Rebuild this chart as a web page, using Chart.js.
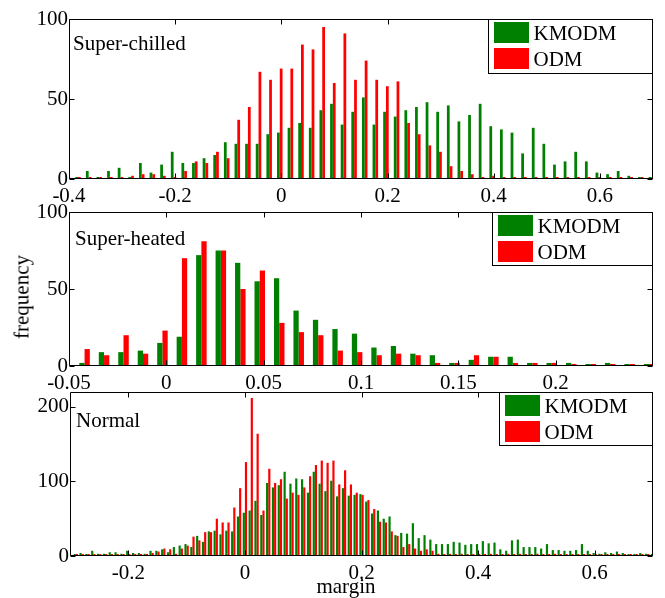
<!DOCTYPE html>
<html>
<head>
<meta charset="utf-8">
<title>margin histograms</title>
<script src="https://cdn.jsdelivr.net/npm/chart.js@4.4.1/dist/chart.umd.min.js"></script>
<style>
  body { margin: 0; background: #fff; }
  #wrap { position: relative; width: 665px; height: 598px; overflow: hidden; background: #fff;
          font-family: 'Liberation Serif', 'Times New Roman', serif; }
  #wrap canvas { position: absolute; left: 0; }
  .lbl { position: absolute; font-size: 21px; line-height: 21px; color: #000; white-space: nowrap; }
  #ylab { left: 22px; top: 297px; transform: translate(-50%, -50%) rotate(-90deg); }
  #xlab { left: 346px; top: 576px; transform: translateX(-50%); }
</style>
</head>
<body>
<div id="wrap">
  <canvas id="chilled" width="665" height="210" style="top:0px"></canvas>
  <canvas id="heated" width="665" height="200" style="top:195px"></canvas>
  <canvas id="normal" width="665" height="223" style="top:375px"></canvas>
  <div class="lbl" id="ylab">frequency</div>
  <div class="lbl" id="xlab">margin</div>
</div>
<script>
// ---- Super-chilled: bin centres and counts ----
const chilledBins = [-0.403, -0.383, -0.363, -0.343, -0.323, -0.303, -0.283, -0.263, -0.243, -0.223,
  -0.203, -0.183, -0.163, -0.143, -0.123, -0.103, -0.083, -0.063, -0.043, -0.023,
  -0.003, 0.017, 0.037, 0.057, 0.077, 0.097, 0.117, 0.137, 0.157, 0.177,
  0.197, 0.217, 0.237, 0.257, 0.277, 0.297, 0.317, 0.337, 0.357, 0.377,
  0.397, 0.417, 0.437, 0.457, 0.477, 0.497, 0.517, 0.537, 0.557, 0.577,
  0.597, 0.617, 0.637, 0.657, 0.677, 0.697];
const chilledKmodm = [0, 1, 5, 1, 5, 7, 1, 10, 4, 9,
  17, 10, 10, 13, 15, 23, 22, 22, 22, 28,
  29, 32, 35, 32, 43, 47, 34, 42, 51, 34,
  42, 39, 43, 45, 48, 42, 46, 36, 40, 47,
  33, 31, 29, 16, 32, 22, 9, 11, 17, 11,
  4, 3, 5, 2, 1, 1];
const chilledOdm = [0, 0, 0, 1, 1, 0, 2, 3, 3, 2,
  1, 5, 11, 10, 17, 13, 37, 45, 67, 62,
  69, 69, 84, 81, 95, 60, 91, 62, 74, 62,
  58, 61, 35, 28, 21, 17, 8, 5, 3, 0,
  2, 0, 0, 0, 0, 0, 0, 0, 0, 0,
  1, 0, 0, 0, 0, 0];
const chilledXTicks = [-0.4, -0.2, 0, 0.2, 0.4, 0.6];
const chilledYTicks = [0, 50, 100];

// ---- Super-heated ----
const heatedBins = [-0.042, -0.032, -0.022, -0.012, -0.002, 0.008, 0.018, 0.028, 0.038, 0.048,
  0.058, 0.068, 0.078, 0.088, 0.098, 0.108, 0.118, 0.128, 0.138, 0.148,
  0.158, 0.168, 0.178, 0.188, 0.198, 0.208, 0.218, 0.228, 0.238, 0.248];
const heatedKmodm = [2, 9, 9, 10, 15, 19, 72, 75, 67, 55,
  57, 36, 30, 24, 21, 12, 13, 8, 7, 2,
  4, 6, 6, 2, 2, 2, 1, 2, 0, 0];
const heatedOdm = [11, 7, 20, 8, 23, 70, 81, 75, 50, 62,
  28, 22, 20, 10, 9, 7, 8, 7, 2, 2,
  7, 6, 2, 2, 2, 1, 1, 0, 0, 0];
const heatedXTicks = [-0.05, 0, 0.05, 0.1, 0.15, 0.2];
const heatedYTicks = [0, 50, 100];

// ---- Normal ----
const normalBins = [-0.29, -0.28, -0.27, -0.26, -0.25, -0.24, -0.23, -0.22, -0.21, -0.2,
  -0.19, -0.18, -0.17, -0.16, -0.15, -0.14, -0.13, -0.12, -0.11, -0.1,
  -0.09, -0.08, -0.07, -0.06, -0.05, -0.04, -0.03, -0.02, -0.01, 0,
  0.01, 0.02, 0.03, 0.04, 0.05, 0.06, 0.07, 0.08, 0.09, 0.1,
  0.11, 0.12, 0.13, 0.14, 0.15, 0.16, 0.17, 0.18, 0.19, 0.2,
  0.21, 0.22, 0.23, 0.24, 0.25, 0.26, 0.27, 0.28, 0.29, 0.3,
  0.31, 0.32, 0.33, 0.34, 0.35, 0.36, 0.37, 0.38, 0.39, 0.4,
  0.41, 0.42, 0.43, 0.44, 0.45, 0.46, 0.47, 0.48, 0.49, 0.5,
  0.51, 0.52, 0.53, 0.54, 0.55, 0.56, 0.57, 0.58, 0.59, 0.6,
  0.61, 0.62, 0.63, 0.64, 0.65, 0.66, 0.67, 0.68, 0.69, 0.7];
const normalKmodm = [2, 4, 1, 7, 3, 3, 5, 5, 3, 7,
  4, 4, 3, 7, 7, 9, 5, 12, 14, 16,
  12, 27, 19, 33, 34, 29, 34, 33, 53, 58,
  61, 74, 55, 98, 92, 95, 113, 97, 104, 103,
  85, 113, 97, 87, 101, 80, 91, 81, 82, 83,
  73, 57, 61, 50, 53, 28, 31, 30, 44, 24,
  28, 22, 16, 16, 16, 19, 18, 15, 16, 16,
  20, 17, 18, 9, 7, 21, 22, 12, 12, 12,
  10, 16, 8, 8, 7, 7, 8, 16, 7, 4,
  3, 5, 4, 6, 4, 2, 1, 4, 3, 1];
const normalOdm = [0, 0, 0, 0, 0, 0, 1, 0, 0, 1,
  1, 1, 1, 4, 6, 10, 9, 3, 10, 14,
  26, 21, 32, 32, 50, 45, 45, 65, 91, 126,
  212, 164, 61, 117, 98, 103, 77, 85, 82, 92,
  107, 122, 128, 125, 128, 96, 115, 96, 85, 82,
  75, 63, 46, 45, 33, 27, 12, 16, 10, 7,
  9, 7, 3, 2, 3, 2, 3, 2, 2, 3,
  2, 3, 2, 2, 3, 2, 3, 2, 2, 3,
  2, 2, 3, 2, 2, 1, 2, 2, 1, 2,
  1, 1, 2, 1, 1, 1, 1, 1, 1, 1];
const normalXTicks = [-0.2, 0, 0.2, 0.4, 0.6];
const normalYTicks = [0, 100, 200];

const seriesNames = ['KMODM', 'ODM'];
const seriesColors = ['#008000', '#ff0000'];

Chart.defaults.font.family = "'Liberation Serif', 'Times New Roman', serif";
Chart.defaults.font.size = 21;
Chart.defaults.color = '#000';
Chart.defaults.animation = false;

// box with inward ticks on all four sides, panel name and legend, drawn over the bars
const framePlugin = {
  id: 'frame',
  afterDatasetsDraw(chart, args, opts) {
    const { ctx, chartArea: a, scales } = chart;
    const L = Math.round(a.left) + 0.5, R = Math.round(a.right) - 0.5;
    const T = Math.round(a.top) + 0.5, B = Math.round(a.bottom) - 0.5;
    const tick = 5;
    ctx.save();
    ctx.strokeStyle = '#000';
    ctx.lineWidth = 1;
    ctx.beginPath();
    scales.x.ticks.forEach(t => {
      const px = Math.round(scales.x.getPixelForValue(t.value)) + 0.5;
      ctx.moveTo(px, B); ctx.lineTo(px, B - tick);
      ctx.moveTo(px, T); ctx.lineTo(px, T + tick);
    });
    scales.y.ticks.forEach(t => {
      const py = Math.round(scales.y.getPixelForValue(t.value)) + 0.5;
      ctx.moveTo(L, py); ctx.lineTo(L + tick, py);
      ctx.moveTo(R, py); ctx.lineTo(R - tick, py);
    });
    ctx.rect(L, T, R - L, B - T);
    ctx.stroke();

    ctx.font = "21px 'Liberation Serif', 'Times New Roman', serif";
    ctx.fillStyle = '#000';
    ctx.textBaseline = 'alphabetic';
    ctx.fillText(opts.title, a.left + opts.titleDx, a.top + opts.titleDy);

    // legend box in the upper right corner
    const lx = Math.round(a.right - opts.legendWidth) + 0.5;
    const lh = opts.legendHeight;
    ctx.fillStyle = '#fff';
    ctx.fillRect(lx, T, R - lx, lh);
    ctx.strokeRect(lx, T, R - lx, lh);
    chart.data.datasets.forEach((ds, i) => {
      const sy = a.top + 3 + 26 * i;
      ctx.fillStyle = ds.backgroundColor;
      ctx.fillRect(lx + 5.5, sy, 35, 21);
      ctx.fillStyle = '#000';
      ctx.fillText(ds.label, lx + 45, sy + 17.5);
    });
    ctx.restore();
  }
};

const fmt = v => String(+(+v).toFixed(3));

function makePanel(id, p) {
  const datasets = [p.kmodm, p.odm].map((vals, s) => ({
    label: seriesNames[s],
    data: p.bins.map((x, i) => ({ x, y: vals[i] })),
    backgroundColor: seriesColors[s],
    borderWidth: 0,
    categoryPercentage: p.groupWidth,
    barPercentage: 1,
    minBarLength: 2
  }));

  return new Chart(document.getElementById(id), {
    type: 'bar',
    data: { datasets },
    options: {
      responsive: false,
      maintainAspectRatio: false,
      layout: { padding: { top: p.padTop, right: 12, bottom: 0, left: 0 } },
      plugins: {
        legend: { display: false },
        tooltip: { enabled: false },
        frame: { title: p.title, titleDx: p.titleDx, titleDy: p.titleDy,
                 legendWidth: p.legendWidth, legendHeight: p.legendHeight }
      },
      scales: {
        x: {
          type: 'linear', min: p.xMin, max: p.xMax, offset: false,
          grid: { display: false, drawTicks: false },
          border: { display: false },
          ticks: { padding: 5, maxRotation: 0, autoSkip: false, callback: fmt },
          afterBuildTicks: s => { s.ticks = p.xTicks.map(value => ({ value })); },
          afterFit: s => { s.height = p.xAxisHeight; }
        },
        y: {
          min: 0, max: p.yMax,
          grid: { display: false, drawTicks: false },
          border: { display: false },
          ticks: { padding: 1, autoSkip: false, callback: fmt },
          afterBuildTicks: s => { s.ticks = p.yTicks.map(value => ({ value })); },
          afterFit: s => { s.width = p.yAxisWidth; }
        }
      }
    },
    plugins: [framePlugin]
  });
}

makePanel('chilled', {
  bins: chilledBins, kmodm: chilledKmodm, odm: chilledOdm,
  xMin: -0.4, xMax: 0.7, xTicks: chilledXTicks, yMax: 100, yTicks: chilledYTicks,
  groupWidth: 0.52, padTop: 19, xAxisHeight: 31, yAxisWidth: 69,
  title: 'Super-chilled', titleDx: 4, titleDy: 31, legendWidth: 165, legendHeight: 54
});

makePanel('heated', {
  bins: heatedBins, kmodm: heatedKmodm, odm: heatedOdm,
  xMin: -0.05, xMax: 0.25, xTicks: heatedXTicks, yMax: 100, yTicks: heatedYTicks,
  groupWidth: 0.54, padTop: 17, xAxisHeight: 29, yAxisWidth: 69,
  title: 'Super-heated', titleDx: 6, titleDy: 33, legendWidth: 161, legendHeight: 53
});

makePanel('normal', {
  bins: normalBins, kmodm: normalKmodm, odm: normalOdm,
  xMin: -0.3, xMax: 0.7, xTicks: normalXTicks, yMax: 220, yTicks: normalYTicks,
  groupWidth: 0.75, padTop: 17, xAxisHeight: 42, yAxisWidth: 70,
  title: 'Normal', titleDx: 6, titleDy: 35, legendWidth: 154, legendHeight: 53
});
</script>
</body>
</html>
